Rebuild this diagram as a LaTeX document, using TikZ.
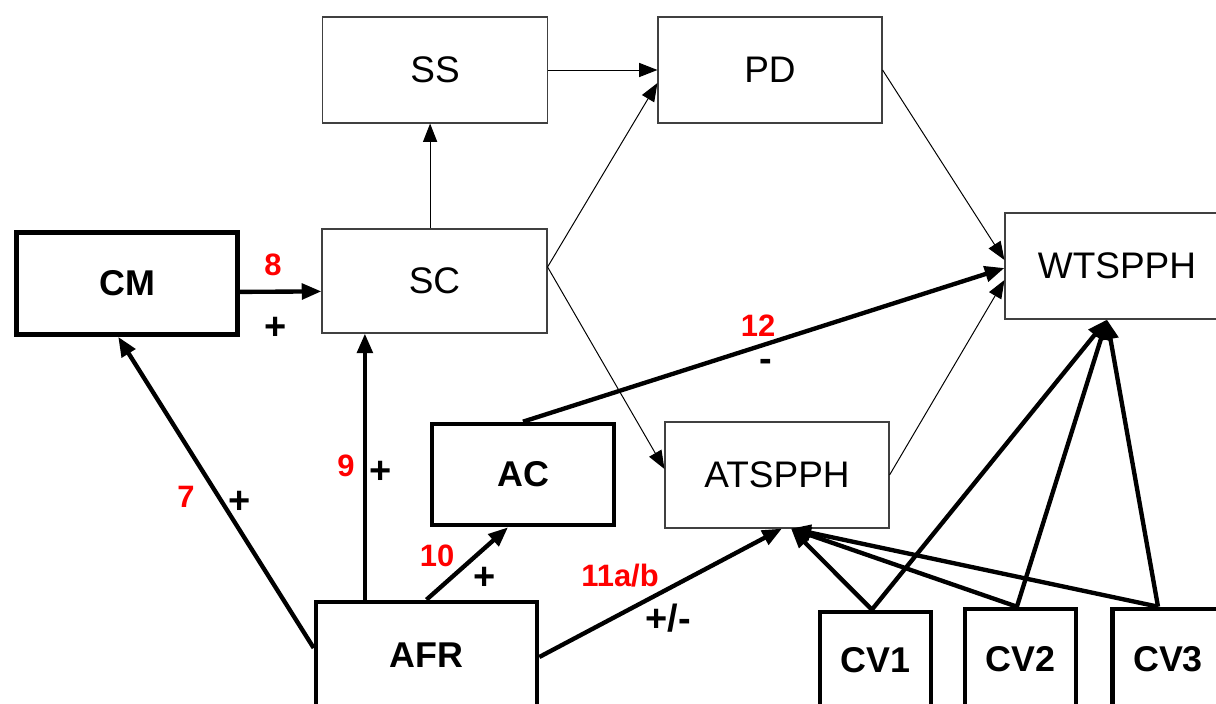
\documentclass[tikz,border=0pt]{standalone}
\usepackage{fontspec}
\setmainfont{Liberation Sans}
\usepackage{xcolor}
\usepackage{tikz}
\usetikzlibrary{arrows.meta}

\tikzset{
  thinbox/.style={draw=black!75, line width=0.8pt, inner sep=0pt,
    font=\fontsize{26.3}{30}\selectfont},
  thickbox/.style={draw=black, line width=3.3pt, inner sep=0pt,
    font=\bfseries\fontsize{25.5}{29}\selectfont},
  num/.style={text=red, inner sep=0pt, font=\bfseries\fontsize{22}{25}\selectfont},
  sgn/.style={inner sep=0pt, font=\bfseries\fontsize{27}{30}\selectfont},
  thinarr/.style={line width=0.7pt, -{Triangle[length=13pt,width=10pt]}},
  thickarr/.style={line width=3.1pt, -{Triangle[length=14pt,width=11pt]}}
}

\begin{document}
\begin{tikzpicture}
		\useasboundingbox (0,0) rectangle (30.4,17.575);
		% boxes
		\node[thickbox, minimum width=5.525cm, minimum height=2.55cm] (CM) at (3.175,10.4875) {CM};
		\node[thinbox, minimum width=5.625cm, minimum height=2.65cm] (SS) at (10.875,15.825) {SS};
		\node[thinbox, minimum width=5.6cm, minimum height=2.65cm] (PD) at (19.25,15.825) {PD};
		\node[thinbox, minimum width=5.625cm, minimum height=2.6cm] (SC) at (10.8625,10.55) {SC};
		\node[thinbox, minimum width=5.6cm, minimum height=2.65cm] (WT) at (27.925,10.925) {WTSPPH};
		\node[thinbox, minimum width=5.6cm, minimum height=2.65cm] (ATS) at (19.425,5.7) {ATSPPH};
		\node[thickbox, minimum width=4.55cm, minimum height=2.525cm] (AC) at (13.075,5.7125) {AC};
		\node[thickbox, minimum width=5.525cm, minimum height=2.65cm] (AFR) at (10.6625,1.2) {AFR};
		\node[thickbox, minimum width=2.775cm, minimum height=2.4cm] (CV1) at (21.8875,1.075) {CV1};
		\node[thickbox, minimum width=2.775cm, minimum height=2.5cm] (CV2) at (25.5125,1.1) {CV2};
		\node[thickbox, minimum width=2.775cm, minimum height=2.5cm] (CV3) at (29.2,1.1) {CV3};
		%
		\coordinate (sc1) at ([xshift=-0.11cm]SC.north);
		\coordinate (afr9) at ([xshift=-1.54cm]AFR.north);
		\coordinate (c1) at ([xshift=-0.09cm]CV1.north);
		\coordinate (c2) at ([xshift=-0.09cm]CV2.north);
		\coordinate (c3) at ([xshift=-0.25cm]CV3.north);
		\coordinate (ta) at ([xshift=0.35cm]ATS.south);
		\coordinate (tw) at ([xshift=-0.25cm]WT.south);
		%
		\path[thinarr]
		(SS) edge (PD)
		(sc1) edge (sc1 |- SS.south)
		([yshift=0.35cm]SC.east) edge ([yshift=-0.325cm]PD.west)
		([yshift=0.35cm]SC.east) edge ([yshift=0.15cm]ATS.west)
		(PD.east) edge ([yshift=0.15cm]WT.west)
		(ATS.east) edge ([yshift=-0.35cm]WT.west);
		%
		\path[thickarr]
		(AC.north) edge ([yshift=-0.05cm]WT.west)
		([yshift=-0.21cm]CM.east) edge ([yshift=-0.26cm]SC.west)
		([yshift=0.175cm]AFR.west) edge ([xshift=-0.22cm]CM.south)
		(afr9) edge (afr9 |- SC.south)
		(AFR.north) edge ([xshift=-0.375cm]AC.south)
		([yshift=-0.05cm]AFR.east) edge ([xshift=0.125cm]ATS.south)
		(c1) edge (ta)
		(c2) edge (ta)
		(c3) edge (ta)
		(c1) edge (tw)
		(c2) edge (tw)
		(c3) edge (tw);
		%
		\node[num] (l7) at (4.65,5.15) {7};
		\node[sgn] (p7) at (6.0,5.025) {+};
		\node[num] (l8) at (6.825,10.95) {8};
		\node[sgn] (p8) at (6.9,9.375) {+};
		\node[num] (l9) at (8.65,5.925) {9};
		\node[sgn] (p9) at (9.525,5.775) {+};
		\node[num] (l10) at (10.925,3.675) {10};
		\node[sgn] (p10) at (12.125,3.125) {+};
		\node[num] (l11) at (15.5,3.175) {11a/b};
		\node[sgn] (p11) at (16.7,2.125) {+/-};
		\node[num] (l12) at (18.95,9.425) {12};
		\node[sgn] (m12) at (19.15,8.45) {-};
		\end{tikzpicture}
\end{document}
